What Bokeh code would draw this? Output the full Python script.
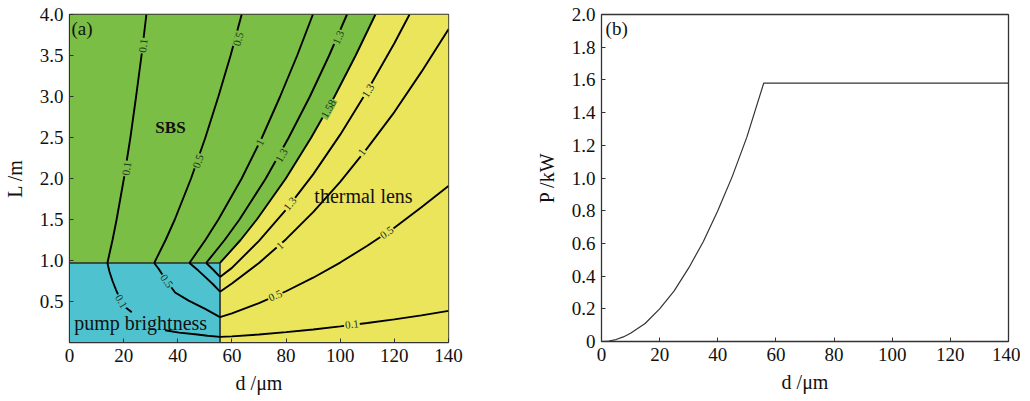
from bokeh.plotting import figure
from bokeh.layouts import row
from bokeh.models import Label, FixedTicker, Range1d
from bokeh.embed import file_html
from bokeh.resources import INLINE

NaN = float("nan")
FONT = "Liberation Serif"

GREEN = "#7abe45"
YELLOW = "#eae55a"
CYAN = "#4ec3cf"

# ---------------- panel (a) data ----------------
corner_d = 55.6
corner_L = 0.97
# SBS / thermal-lens boundary (the 1.58 contour)
boundary_L = [0.97, 1.25, 1.5, 2.0, 2.5, 3.0, 3.5, 4.0]
boundary_d = [55.6, 63.2, 69.2, 79.9, 89.3, 97.9, 105.7, 113.0]

# SBS-limited contours (d as function of L)
sbs_L = [0.97, 1.25, 1.5, 2.0, 2.5, 3.0, 3.5, 4.0]
sbs_d_01 = [14.0, 15.9, 17.4, 20.1, 22.5, 24.6, 26.6, 28.4]
sbs_d_05 = [31.3, 35.5, 38.9, 44.9, 50.2, 55.0, 59.5, 63.6]
sbs_d_10 = [44.3, 50.2, 55.0, 63.6, 71.1, 77.8, 84.1, 89.9]
sbs_d_13 = [50.5, 57.3, 62.8, 72.5, 81.0, 88.8, 95.9, 102.5]

# thermal-lens-limited contours (L as function of d)
tl_d = [55.6, 60, 70, 80, 90, 100, 110, 120, 130, 140]
tl_L_01 = [0.068, 0.075, 0.098, 0.126, 0.159, 0.196, 0.237, 0.282, 0.331, 0.385]
tl_L_05 = [0.31, 0.355, 0.48, 0.625, 0.79, 0.975, 1.18, 1.40, 1.65, 1.91]
tl_L_10 = [0.62, 0.72, 0.97, 1.26, 1.59, 1.96, 2.37, 2.81, 3.30, 3.82]
tl_d_13 = [55.6, 60, 70, 80, 90, 100, 110, 120, 125.6]
tl_L_13 = [0.80, 0.91, 1.24, 1.62, 2.05, 2.535, 3.07, 3.65, 4.0]

# pump-brightness-limited contours
pb_d_01 = [14.0, 14.8, 15.9, 17.2, 19.1, 21.0, 23.0, NaN, 35.3, 40.5, 46.4, 51.0, 55.6]
pb_L_01 = [0.97, 0.86, 0.75, 0.64, 0.50, 0.42, 0.37, NaN, 0.15, 0.12, 0.10, 0.083, 0.068]
pb_d_05 = [31.3, 32.9, 35.9, 39.0, 44.0, 50.1, 55.6]
pb_L_05 = [0.97, 0.90, 0.75, 0.61, 0.51, 0.41, 0.31]
pb_d_10 = [44.3, 47.5, 50.1, 53.0, 55.6]
pb_L_10 = [0.97, 0.88, 0.80, 0.71, 0.62]
pb_d_13 = [50.5, 53.0, 55.6]
pb_L_13 = [0.97, 0.89, 0.80]

# contour labels: text, d, L, angle (deg), region
clabels = [
    ("0.1", 27.3, 3.62, 83, "g"), ("0.1", 21.2, 2.12, 80, "g"),
    ("0.5", 62.4, 3.70, 74, "g"), ("0.5", 47.6, 2.21, 70, "g"),
    ("1", 70.4, 2.44, 64, "g"),
    ("1.3", 99.4, 3.72, 66, "g"), ("1.3", 78.4, 2.28, 60, "g"),
    ("1.58", 95.7, 2.85, 61, "g"),
    ("1.3", 110.4, 3.07, 59, "y"), ("1", 108.0, 2.32, 52, "y"),
    ("1.3", 81.5, 1.69, 51, "y"), ("1", 77.8, 1.18, 43, "y"),
    ("0.5", 117.2, 1.34, 35, "y"), ("0.5", 76.0, 0.57, 24, "y"),
    ("0.1", 104.3, 0.22, 7, "y"),
    ("0.1", 19.1, 0.50, -60, "c"), ("0.5", 35.9, 0.75, -55, "c"),
]

# ---------------- panel (b) data ----------------
p_d = [0, 2.5, 5, 7.5, 10, 15, 20, 25, 30, 35, 40, 45, 50, 55.8, 140]
p_P = [0, 0.003, 0.012, 0.028, 0.05, 0.11, 0.2, 0.31, 0.45, 0.61, 0.8, 1.01, 1.25, 1.58, 1.58]


def style(p, xlabel, ylabel):
    p.outline_line_color = "#333333"
    p.outline_line_width = 1.3
    p.xgrid.visible = False
    p.ygrid.visible = False
    for ax in list(p.xaxis) + list(p.yaxis):
        ax.major_tick_in = 4
        ax.major_tick_out = 0
        ax.minor_tick_line_color = None
        ax.axis_line_color = "#333333"
        ax.major_tick_line_color = "#333333"
        ax.major_label_text_font = FONT
        ax.major_label_text_font_size = "19px"
        ax.major_label_text_color = "#111111"
        ax.major_label_standoff = 6
        ax.axis_label_text_font = FONT
        ax.axis_label_text_font_size = "20px"
        ax.axis_label_text_font_style = "normal"
        ax.axis_label_text_color = "#111111"
    p.xaxis.axis_label = xlabel
    p.yaxis.axis_label = ylabel
    p.xaxis.axis_label_standoff = 7
    p.yaxis.axis_label_standoff = 11


def txt(p, x, y, s, size="19px", style_="normal", angle=0, align="left",
        baseline="alphabetic", bg=None, color="#111111"):
    lab = Label(x=x, y=y, text=s, text_font=FONT, text_font_size=size,
                text_font_style=style_, angle=angle, angle_units="deg",
                text_align=align, text_baseline=baseline, text_color=color)
    if bg is not None:
        lab.background_fill_color = bg
        lab.padding = 1
    p.add_layout(lab)


# ---------------- figure (a) ----------------
p1 = figure(frame_width=379, frame_height=328, x_range=Range1d(0, 140),
            y_range=Range1d(0, 4), output_backend="svg", toolbar_location=None,
            min_border_left=68, min_border_right=84, min_border_top=14,
            min_border_bottom=52)
style(p1, "d /\u03bcm", "L /m")
p1.xaxis.ticker = FixedTicker(ticks=[0, 20, 40, 60, 80, 100, 120, 140])
p1.yaxis.ticker = FixedTicker(ticks=[0.5, 1.0, 1.5, 2.0, 2.5, 3.0, 3.5, 4.0])
p1.yaxis.major_label_overrides = {1: "1.0", 2: "2.0", 3: "3.0", 4: "4.0"}

xmin, xmax, ymin, ymax = 0, 140, 0, 4
# regions
p1.patch([xmin, corner_d, corner_d, xmin], [ymin, ymin, corner_L, corner_L],
         fill_color=CYAN, line_color=None)
p1.patch([xmin] + boundary_d + [xmin], [corner_L] + boundary_L + [ymax],
         fill_color=GREEN, line_color=None)
p1.patch([corner_d, xmax, xmax] + boundary_d[::-1],
         [ymin, ymin, ymax] + boundary_L[::-1],
         fill_color=YELLOW, line_color=None)
# region borders
p1.line([xmin, corner_d, corner_d], [corner_L, corner_L, ymin],
        line_color="#2a2a2a", line_width=1.6)

LW = 1.9
for dd in [sbs_d_01, sbs_d_05, sbs_d_10, sbs_d_13]:
    p1.line(dd, sbs_L, line_color="black", line_width=LW)
p1.line(boundary_d, boundary_L, line_color="black", line_width=LW)
for LL in [tl_L_01, tl_L_05, tl_L_10]:
    p1.line(tl_d, LL, line_color="black", line_width=LW)
p1.line(tl_d_13, tl_L_13, line_color="black", line_width=LW)
for dd, LL in [(pb_d_01, pb_L_01), (pb_d_05, pb_L_05), (pb_d_10, pb_L_10),
               (pb_d_13, pb_L_13)]:
    p1.line(dd, LL, line_color="black", line_width=LW)

bgmap = {"g": GREEN, "y": YELLOW, "c": CYAN}
for s, x, y, a, r in clabels:
    txt(p1, x, y, s, size="11px", angle=a, align="center", baseline="middle",
        bg=bgmap[r], color="#223322")

txt(p1, 0.7, 3.96, "(a)", size="19px", baseline="top")
txt(p1, 37.3, 2.62, "SBS", size="17px", style_="bold", align="center",
    baseline="middle")
txt(p1, 108.6, 1.79, "thermal lens", size="20px", align="center",
    baseline="middle")
txt(p1, 26.3, 0.24, "pump brightness", size="20px", align="center",
    baseline="middle")

# ---------------- figure (b) ----------------
p2 = figure(frame_width=407, frame_height=327, x_range=Range1d(0, 140),
            y_range=Range1d(0, 2), output_backend="svg", toolbar_location=None,
            min_border_left=68, min_border_right=12, min_border_top=14,
            min_border_bottom=53)
style(p2, "d /\u03bcm", "P /kW")
p2.xaxis.ticker = FixedTicker(ticks=[0, 20, 40, 60, 80, 100, 120, 140])
p2.yaxis.ticker = FixedTicker(ticks=[0, 0.2, 0.4, 0.6, 0.8, 1.0, 1.2, 1.4,
                                     1.6, 1.8, 2.0])
p2.yaxis.major_label_overrides = {1: "1.0", 2: "2.0"}
p2.line(p_d, p_P, line_color="#333333", line_width=1.2)

txt(p2, 1.4, 1.98, "(b)", size="19px", baseline="top")

layout = row(p1, p2)
open("out.html", "w").write(file_html(layout, INLINE))
